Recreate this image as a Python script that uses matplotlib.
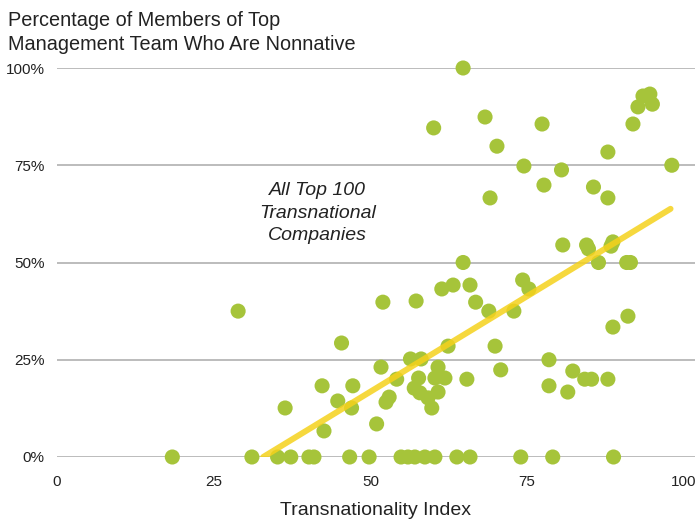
import matplotlib.pyplot as plt

# points (index, % nonnative)
index_vals = [
    18.4, 31.1, 35.2, 37.3, 40.2, 41.0, 46.7, 49.8, 54.9, 56.0, 57.1, 58.7, 60.3, 63.8, 65.9, 74.0, 79.1, 88.8,
    28.9, 36.4, 42.3, 42.6, 44.8, 45.4, 47.2, 47.0, 51.0, 51.7, 52.0, 53.0, 52.5, 54.2, 56.4, 58.1,
    57.3, 57.7, 57.0, 57.9, 59.2, 59.8, 60.8, 60.3, 61.9, 60.8, 62.4, 61.4, 63.2, 65.9, 65.4, 66.8,
    68.9, 69.9, 70.8, 72.9, 74.3, 75.3, 64.8, 60.1, 68.3, 70.2, 69.1, 64.8, 74.5, 77.4, 77.7, 80.5,
    78.5, 78.5, 82.3, 81.5, 84.2, 85.3, 87.9, 88.7, 91.1, 80.7, 84.5, 84.8, 88.7, 88.4, 86.4, 90.9,
    91.5, 85.6, 87.9, 87.9, 91.9, 92.7, 93.5, 94.6, 95.0, 98.1,
]
pct_nonnative = [
    0, 0, 0, 0, 0, 0, 0, 0, 0, 0, 0, 0, 0, 0, 0, 0, 0, 0,
    37.5, 12.6, 18.3, 6.7, 14.4, 29.3, 18.3, 12.6, 8.5, 23.1, 39.8, 15.4, 14.1, 20.0, 25.2, 25.2,
    40.1, 20.3, 17.7, 16.5, 15.2, 12.6, 23.1, 20.3, 20.3, 16.7, 28.5, 43.2, 44.2, 44.2, 20.0, 39.8,
    37.5, 28.5, 22.4, 37.5, 45.5, 43.2, 100, 84.6, 87.4, 79.9, 66.6, 50.0, 74.8, 85.6, 69.9, 73.8,
    25.0, 18.3, 22.1, 16.7, 20.0, 20.0, 20.0, 33.4, 36.2, 54.5, 54.5, 53.5, 55.3, 54.2, 50.0, 50.0,
    50.0, 69.4, 78.4, 66.6, 85.6, 90.0, 92.8, 93.3, 90.7, 75.0,
]

trend_x = [32.9, 97.9]
trend_y = [0, 63.8]

x_ticks = [0, 25, 50, 75, 100]
y_ticks = [0, 25, 50, 75, 100]
y_tick_labels = ["0%", "25%", "50%", "75%", "100%"]

plt.rcParams['font.family'] = ['Liberation Sans', 'DejaVu Sans']

fig = plt.figure(figsize=(6.95, 5.2), dpi=100)
ax = fig.add_axes([57 / 695, 63 / 520, 1 - 57 / 695, 389 / 520])

ax.scatter(index_vals, pct_nonnative, s=118, color='#a6c43a', edgecolors='none',
           zorder=3, clip_on=False)
ax.plot(trend_x, trend_y, color='#f5d21c', linewidth=4.3, alpha=0.85,
        solid_capstyle='round', zorder=4)

ax.set_xlim(0, 101.8)
ax.set_ylim(0, 100)
ax.set_xticks(x_ticks)
ax.set_yticks(y_ticks)
ax.set_yticklabels(y_tick_labels)
ax.tick_params(length=0, labelsize=11, colors='#222222')
ax.tick_params(axis='y', pad=9)
ax.tick_params(axis='x', pad=13)
ax.grid(axis='y', color='#aaaaaa', linewidth=1.1)
ax.set_axisbelow(True)
for sp in ax.spines.values():
    sp.set_visible(False)

ax.set_xlabel("Transnationality Index", fontsize=14, color='#222222', labelpad=9)

fig.text(8 / 695, 1 - 11 / 520, "Percentage of Members of Top\nManagement Team Who Are Nonnative",
         fontsize=14.3, color='#222222', ha='left', va='top', linespacing=1.3)

ax.text(41.6, 62.7, "All Top 100\nTransnational\nCompanies", fontsize=14, style='italic',
        color='#222222', ha='center', va='center', linespacing=1.45)

fig.savefig('out.png', dpi=100)
